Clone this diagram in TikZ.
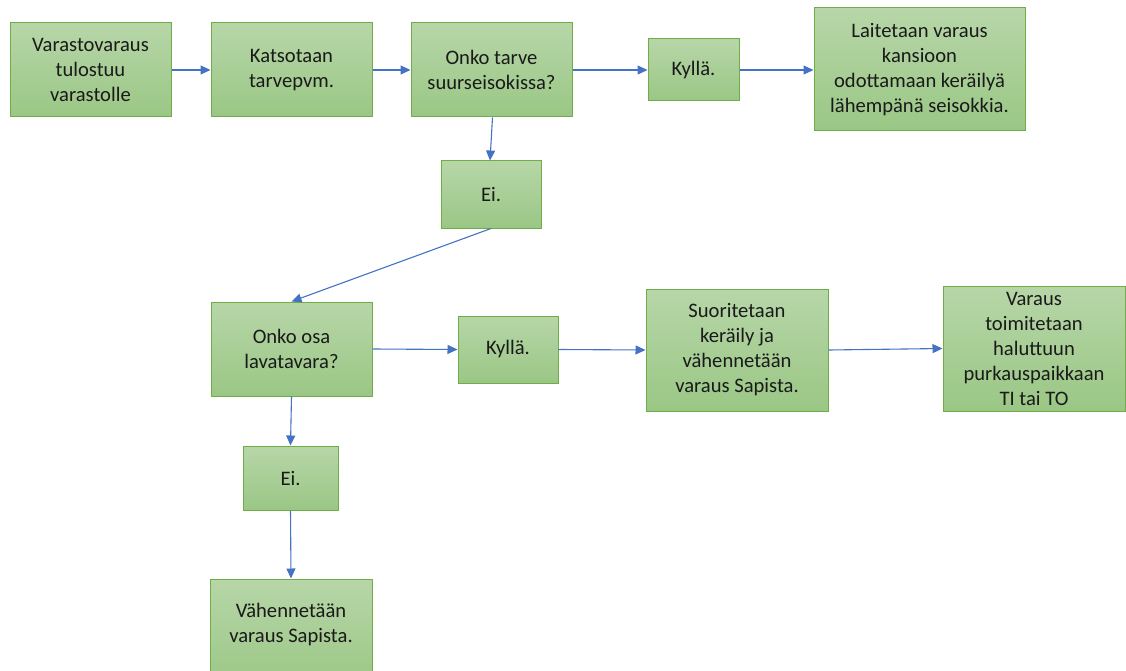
\documentclass[tikz,border=0pt]{standalone}
\usepackage{fontspec}
\setmainfont{Carlito}
\usetikzlibrary{arrows.meta}
\definecolor{boxtop}{HTML}{B7D6A8}
\definecolor{boxbot}{HTML}{9AC785}
\definecolor{boxline}{HTML}{70AD47}
\definecolor{flow}{HTML}{4472C4}
\definecolor{ink}{HTML}{1A1A1A}
\tikzset{
  boxfont/.style={font=\fontsize{20.6}{25}\selectfont},
  stepbox/.style={draw=boxline, line width=1pt, top color=boxtop, bottom color=boxbot,
    align=center, text=ink, inner sep=0pt, boxfont},
  flowarrow/.style={draw=flow, line width=1.1pt, -{Triangle[length=10pt,width=9pt]}},
}
\begin{document}
\begin{tikzpicture}[x=1pt,y=-1pt]
\useasboundingbox (0,0) rectangle (1126,671);
\clip (0,0) rectangle (1126,671);
% first row
\node[stepbox, minimum width=161pt, minimum height=94pt] (a) at (90.5,70) {Varastovaraus\\tulostuu\\varastolle};
\node[stepbox, minimum width=161pt, minimum height=94pt] (b) at (291.5,70) {Katsotaan\\tarvepvm.};
\node[stepbox, minimum width=161pt, minimum height=94pt] (c) at (491.5,70) {Onko tarve\\suurseisokissa?};
\node[stepbox, minimum width=91pt, minimum height=62pt] (d) at (693.5,70) {Kyllä.};
\node[stepbox, minimum width=211pt, minimum height=123pt] (e) at (919.5,69.5) {Laitetaan varaus\\kansioon\\odottamaan keräilyä\\lähempänä seisokkia.};
% answer "no" to the first question
\node[stepbox, minimum width=100pt, minimum height=67pt] (f) at (491,194.5) {Ei.};
% second row
\node[stepbox, minimum width=161pt, minimum height=94pt] (g) at (291.5,349) {Onko osa\\lavatavara?};
\node[stepbox, minimum width=100pt, minimum height=67pt] (h) at (508,349.5) {Kyllä.};
\node[stepbox, minimum width=182pt, minimum height=122pt] (i) at (737,350) {Suoritetaan\\keräily ja\\vähennetään\\varaus Sapista.};
\node[stepbox, minimum width=182pt, minimum height=125pt] (j) at (1034,348.5) {Varaus\\toimitetaan\\haluttuun\\purkauspaikkaan\\TI tai TO};
% answer "no" to the second question
\node[stepbox, minimum width=95pt, minimum height=64pt] (k) at (290.5,478) {Ei.};
\node[stepbox, minimum width=162pt, minimum height=110pt] (l) at (291,634) {};
\node[align=center, text=ink, boxfont] (lt) at (291,625) {Vähennetään\\varaus Sapista.};
% connectors
\draw[flowarrow] (a.east) -- (b.west);
\draw[flowarrow] (b.east) -- (c.west);
\draw[flowarrow] (c.east) -- (d.west);
\draw[flowarrow] (d.east) -- (e.west |- d.east);
\draw[flowarrow] ([xshift=1pt]c.south) -- ([xshift=-1pt]f.north);
\draw[flowarrow] (f.south) -- (g.north);
\draw[flowarrow] (g.east) -- (h.west);
\draw[flowarrow] (h.east) -- (i.west);
\draw[flowarrow] (i.east) -- (j.west);
\draw[flowarrow] (g.south) -- (k.north);
\draw[flowarrow] (k.south) -- (l.north);
\end{tikzpicture}
\end{document}
